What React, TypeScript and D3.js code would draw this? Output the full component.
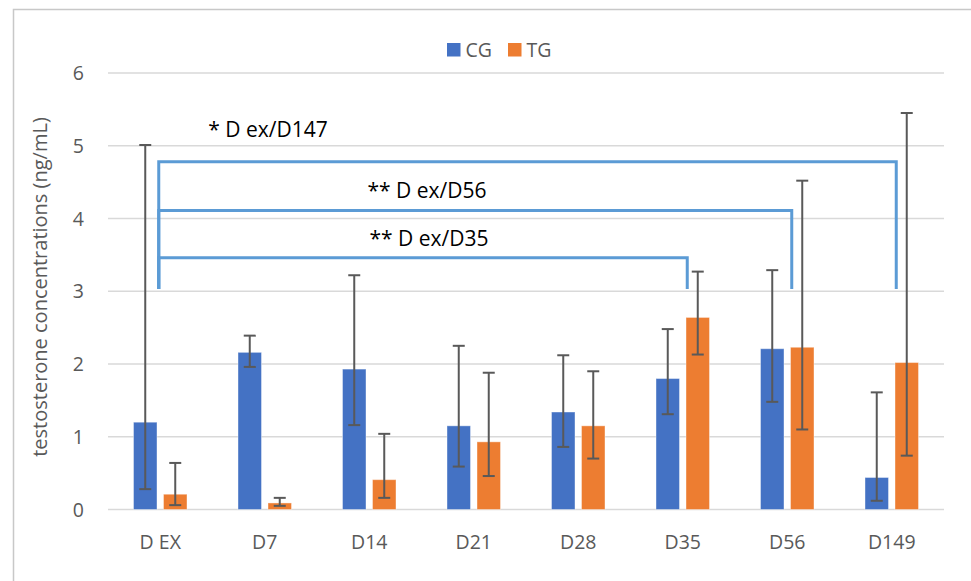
import React, { useRef, useEffect } from "react";
import * as d3 from "d3";

const days = ["D EX", "D7", "D14", "D21", "D28", "D35", "D56", "D149"];
const cgMean = [1.2, 2.16, 1.93, 1.15, 1.34, 1.8, 2.21, 0.44];
const cgLow = [0.28, 1.96, 1.16, 0.59, 0.86, 1.31, 1.48, 0.12];
const cgHigh = [5.01, 2.39, 3.22, 2.25, 2.12, 2.48, 3.29, 1.61];
const tgMean = [0.21, 0.09, 0.41, 0.93, 1.15, 2.64, 2.23, 2.02];
const tgLow = [0.06, 0.05, 0.16, 0.46, 0.7, 2.13, 1.1, 0.74];
const tgHigh = [0.64, 0.16, 1.04, 1.88, 1.9, 3.27, 4.52, 5.45];
const yTicks = [0, 1, 2, 3, 4, 5, 6];

// significance brackets: from D EX to a target day
const bracketTo = ["D149", "D56", "D35"];
const bracketLevel = [4.78, 4.11, 3.46];
const bracketText = ["* D ex/D147", "** D ex/D56", "** D ex/D35"];
const bracketFoot = 3.03;

const FONT = "'Open Sans', 'Noto Sans', sans-serif";

const App = () => {
  const ref = useRef<SVGSVGElement | null>(null);

  useEffect(() => {
    if (!ref.current) return;
    const svg = d3.select(ref.current);
    svg.selectAll("*").remove();

    const left = 108,
      right = 944,
      top = 73,
      bottom = 509.5;

    const x = d3.scaleBand().domain(days).range([left, right]).padding(0);
    const y = d3.scaleLinear().domain([0, 6]).range([bottom, top]);
    const barW = 23.5;
    const gap = 6.5;

    // chart border
    svg
      .append("path")
      .attr("d", `M13.5,581 V9.5 H971`)
      .attr("fill", "none")
      .attr("stroke", "#c8c8c8")
      .attr("stroke-width", 1.5);

    // gridlines
    svg
      .append("g")
      .selectAll("line")
      .data(yTicks)
      .enter()
      .append("line")
      .attr("x1", left)
      .attr("x2", right)
      .attr("y1", (d) => y(d))
      .attr("y2", (d) => y(d))
      .attr("stroke", "#d9d9d9")
      .attr("stroke-width", 1.3);

    // y tick labels
    svg
      .append("g")
      .selectAll("text")
      .data(yTicks)
      .enter()
      .append("text")
      .attr("x", 84)
      .attr("y", (d) => y(d))
      .attr("dy", "0.36em")
      .attr("text-anchor", "end")
      .attr("font-family", FONT)
      .attr("font-size", 19.5)
      .attr("fill", "#595959")
      .text((d) => d);

    // x labels
    svg
      .append("g")
      .selectAll("text")
      .data(days)
      .enter()
      .append("text")
      .attr("x", (d) => x(d)! + x.bandwidth() / 2)
      .attr("y", 542)
      .attr("dy", "0.36em")
      .attr("text-anchor", "middle")
      .attr("font-family", FONT)
      .attr("font-size", 19.5)
      .attr("fill", "#595959")
      .text((d) => d);

    // y axis title
    svg
      .append("text")
      .attr("transform", `translate(40,287) rotate(-90)`)
      .attr("text-anchor", "middle")
      .attr("dy", "0.36em")
      .attr("font-family", FONT)
      .attr("font-size", 20)
      .attr("fill", "#595959")
      .text("testosterone concentrations (ng/mL)");

    const series = [
      { mean: cgMean, low: cgLow, high: cgHigh, color: "#4472C4", off: -gap / 2 - barW },
      { mean: tgMean, low: tgLow, high: tgHigh, color: "#ED7D31", off: gap / 2 },
    ];

    series.forEach((s) => {
      const g = svg.append("g");
      g.selectAll("rect")
        .data(days)
        .enter()
        .append("rect")
        .attr("x", (d) => x(d)! + x.bandwidth() / 2 + s.off)
        .attr("y", (d, i) => y(s.mean[i]))
        .attr("width", barW)
        .attr("height", (d, i) => bottom - y(s.mean[i]))
        .attr("fill", s.color)
        .attr("stroke", "#ffffff")
        .attr("stroke-opacity", 0.4)
        .attr("stroke-width", 1);
    });

    // error bars
    series.forEach((s) => {
      const g = svg.append("g").attr("stroke", "#595959").attr("stroke-width", 2).attr("fill", "none");
      days.forEach((d, i) => {
        const cx = x(d)! + x.bandwidth() / 2 + s.off + barW / 2;
        g.append("line").attr("x1", cx).attr("x2", cx).attr("y1", y(s.low[i])).attr("y2", y(s.high[i]));
        [s.low[i], s.high[i]].forEach((v) => {
          g.append("line")
            .attr("x1", cx - 6)
            .attr("x2", cx + 6)
            .attr("y1", y(v))
            .attr("y2", y(v));
        });
      });
    });

    // significance brackets
    const bx0 = x("D EX")! + x.bandwidth() / 2 - 1.5;
    const bg = svg.append("g").attr("stroke", "#5B9BD5").attr("stroke-width", 3).attr("fill", "none");
    bracketTo.forEach((t, i) => {
      const bx1 = x(t)! + x.bandwidth() / 2 + 4.5;
      bg.append("path").attr(
        "d",
        `M${bx0},${y(bracketFoot)} V${y(bracketLevel[i])} H${bx1} V${y(bracketFoot)}`
      );
    });

    const labelX = [268, 427, 429];
    const labelY = [129, 190, 238];
    bracketText.forEach((t, i) => {
      svg
        .append("text")
        .attr("x", labelX[i])
        .attr("y", labelY[i])
        .attr("dy", "0.36em")
        .attr("text-anchor", "middle")
        .attr("font-family", FONT)
        .attr("font-size", 21)
        .attr("fill", "#000000")
        .text(t);
    });

    // legend
    const legend = [
      { name: "CG", color: "#4472C4", x: 447 },
      { name: "TG", color: "#ED7D31", x: 508 },
    ];
    legend.forEach((l) => {
      svg.append("rect").attr("x", l.x).attr("y", 43).attr("width", 13.5).attr("height", 13.5).attr("fill", l.color);
      svg
        .append("text")
        .attr("x", l.x + 18.5)
        .attr("y", 50)
        .attr("dy", "0.36em")
        .attr("font-family", FONT)
        .attr("font-size", 19.5)
        .attr("fill", "#595959")
        .text(l.name);
    });
  }, []);

  return (
    <svg
      ref={ref}
      width={971}
      height={581}
      style={{ position: "absolute", left: 0, top: 0, background: "#fff" }}
    />
  );
};

export default App;
